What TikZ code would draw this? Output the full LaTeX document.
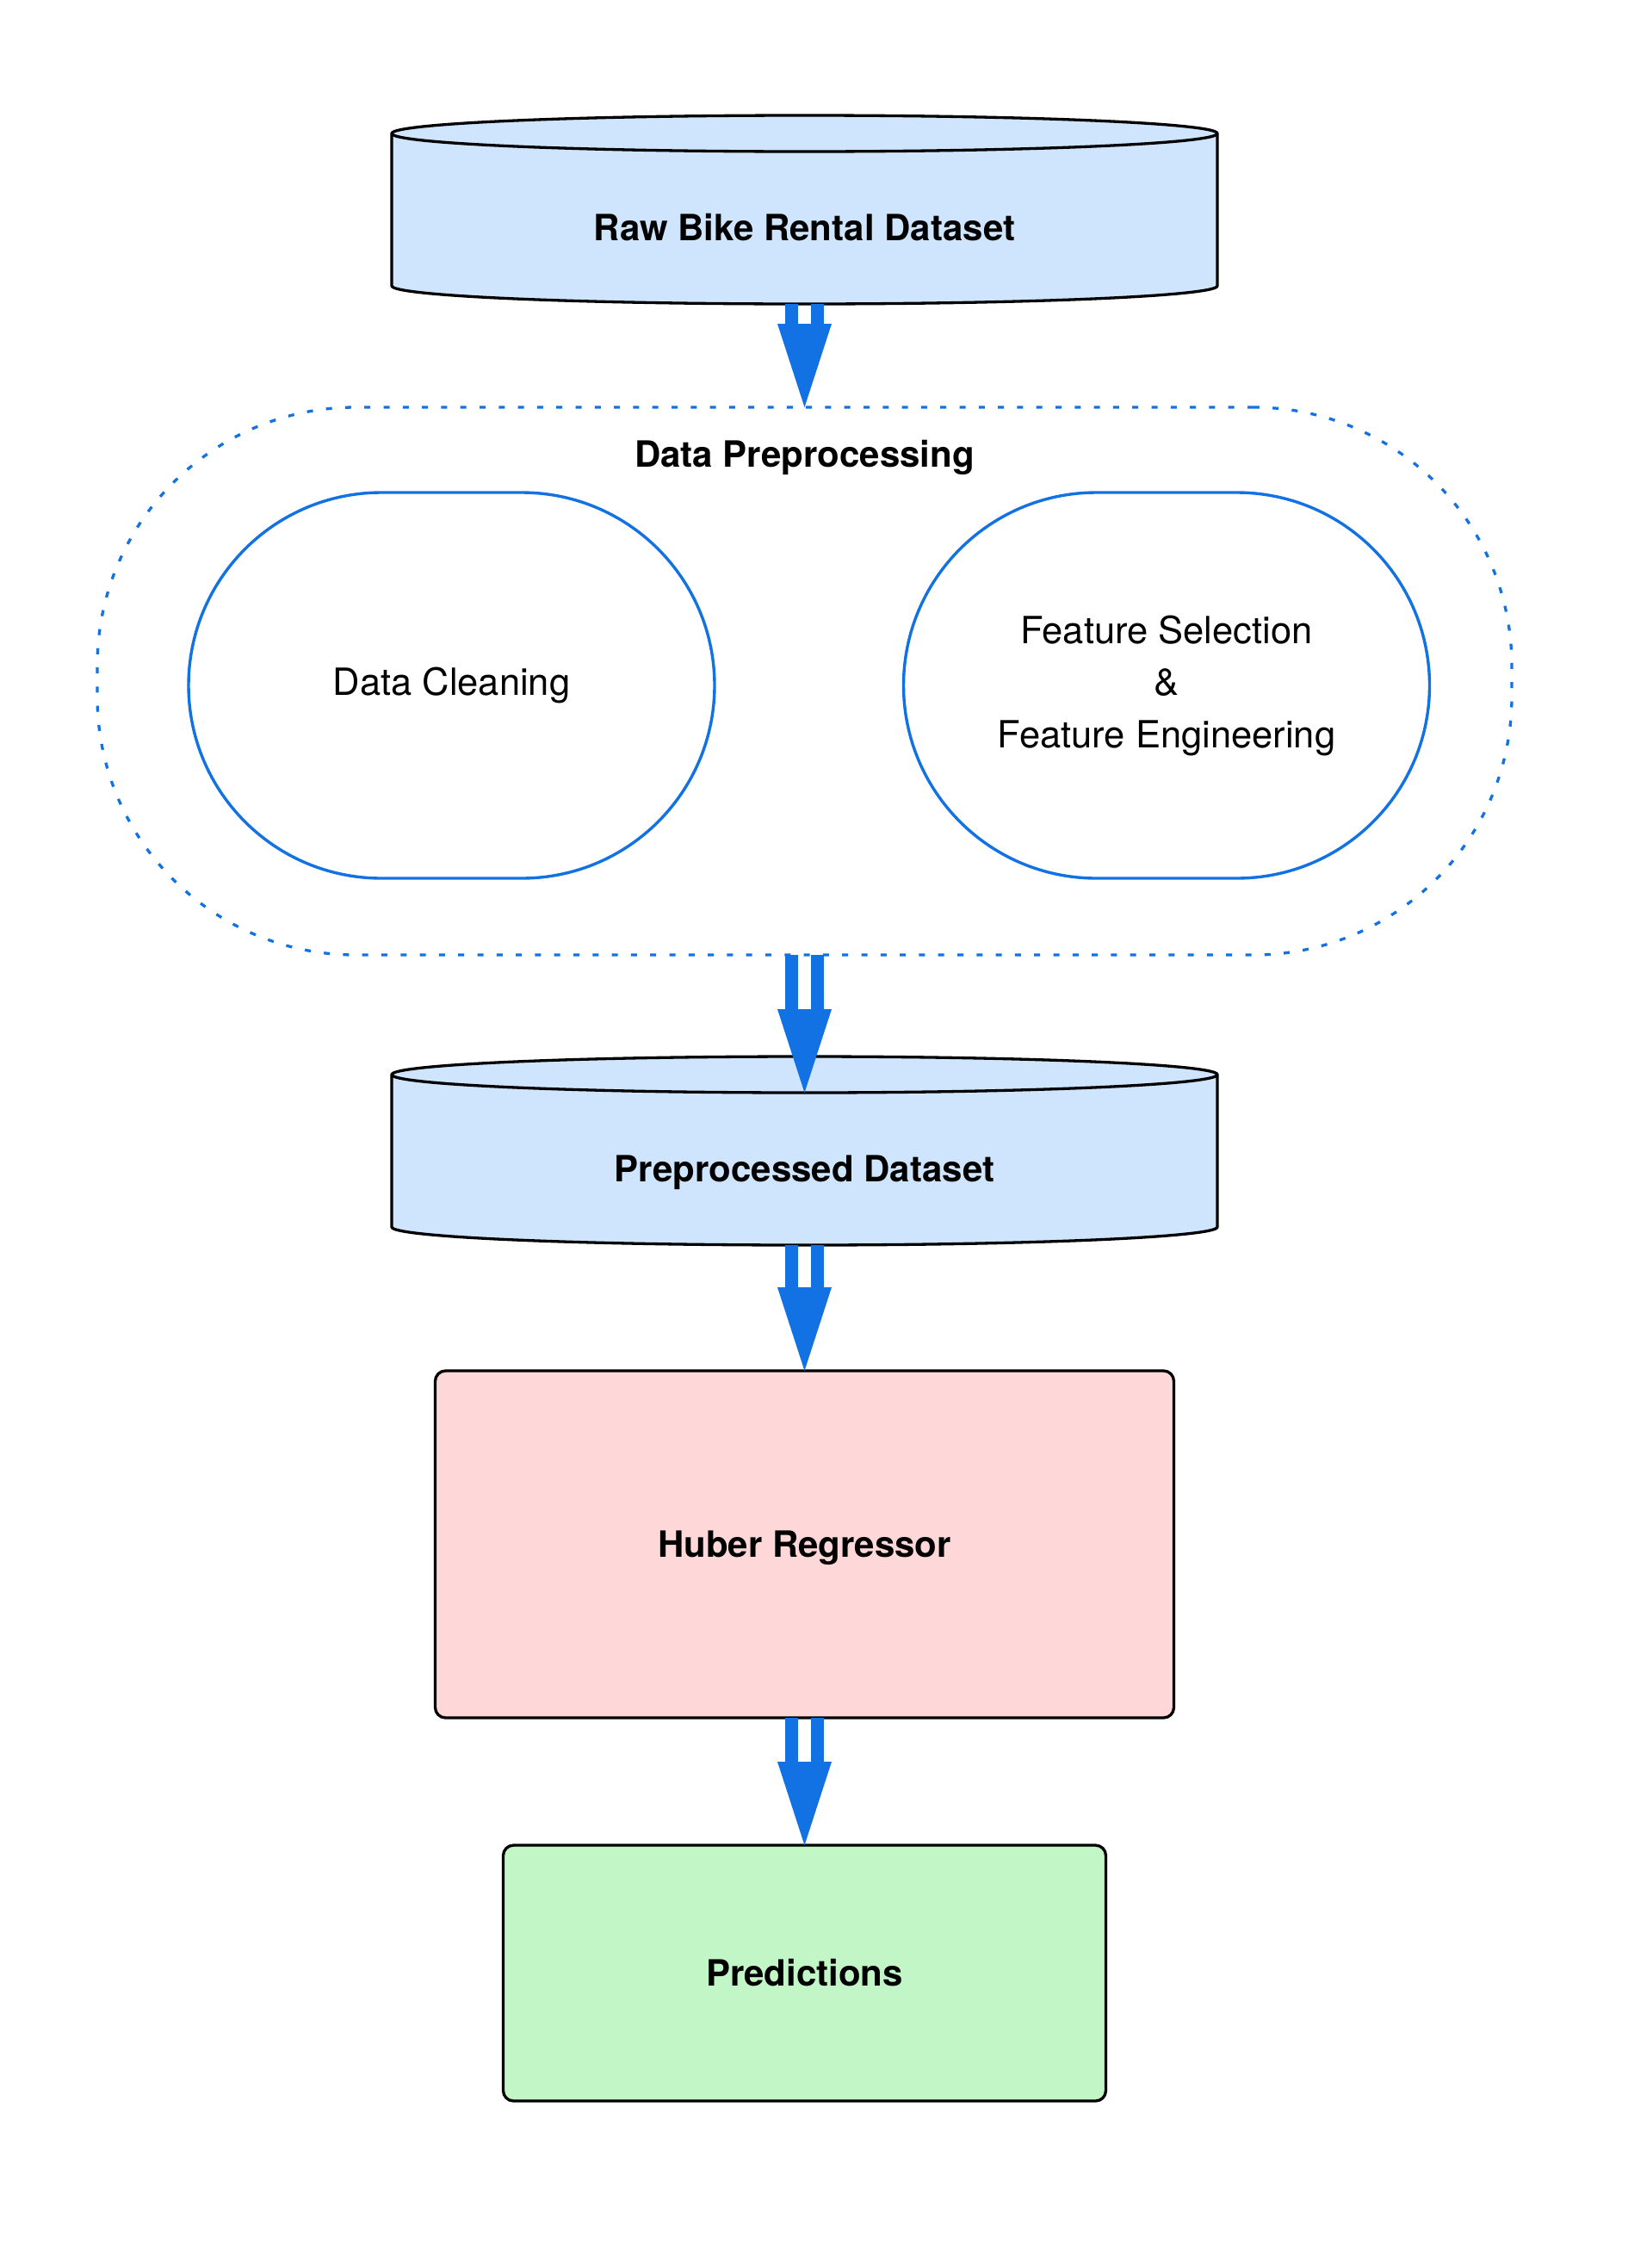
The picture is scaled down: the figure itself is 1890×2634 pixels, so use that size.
\documentclass[tikz,border=0pt]{standalone}
\usepackage{fontspec}
\setmainfont{TeX Gyre Heros}
\usepackage{xcolor}
\usepackage{tikz}
\usetikzlibrary{calc, backgrounds}

\definecolor{flowblue}{RGB}{18,114,228}
\definecolor{dbfill}{RGB}{207,228,253}
\definecolor{modelfill}{RGB}{254,216,217}
\definecolor{predfill}{RGB}{195,246,199}

\tikzset{
    boldtext/.style={font=\fontsize{42}{50}\selectfont\bfseries, text height=30.2pt, text depth=0pt},
    db/.style={boldtext, minimum width=959pt, minimum height=177pt, inner sep=0pt, outer sep=0pt},
    groupbox/.style={draw=flowblue, line width=3.3pt, dash pattern=on 7pt off 15.3pt, rounded corners=300pt, minimum width=1643pt, minimum height=636pt, outer sep=0pt},
    stage/.style={draw=flowblue, line width=3.4pt, rounded corners=224pt, minimum width=611pt, minimum height=448pt, align=center, font=\fontsize{43.5}{60.5}\selectfont},
    modelbox/.style={boldtext, draw=black, line width=3.3pt, rounded corners=12pt, outer sep=0pt},
    shaft/.style={draw=flowblue, line width=15pt},
}

% double shaft plus one wide head
\newcommand{\flowto}[2]{%
    \foreach \s in {-15,15}
        \draw[shaft] ([xshift=\s pt]#1) -- ([xshift=\s pt, yshift=96pt]#2);
    \fill[flowblue] ([xshift=-31.5pt, yshift=97pt]#2) -- (#2) -- ([xshift=31.5pt, yshift=97pt]#2) -- cycle;
}

\begin{document}
\begin{tikzpicture}[x=1pt, y=1pt]
        \useasboundingbox (0,0) rectangle (1890,-2634);

        \node[db] (raw) at (934.5,-264.5) {Raw Bike Rental Dataset};

        \node[groupbox] (pre) at (934.5,-791) {};
        \node[font=\fontsize{42}{50}\selectfont\bfseries, anchor=base] (prelabel) at (934.5,-542) {Data Preprocessing};
        \node[stage] (clean) at (524.5,-796) {Data Cleaning};
        \node[stage] (feat) at (1355,-796) {Feature Selection\\\&\\Feature Engineering};

        \node[db] (prep) at (934.5,-1357.5) {Preprocessed Dataset};

        \node[modelbox, fill=modelfill, minimum width=858pt, minimum height=403pt] (huber) at (934.5,-1793.5) {Huber Regressor};
        \node[modelbox, fill=predfill, minimum width=700pt, minimum height=297pt] (pred) at (934.5,-2291.5) {Predictions};

        % cylinders behind their labels
        \begin{scope}[on background layer]
            \fill[white] (0,0) rectangle (1890,-2634);
            \foreach \n in {raw, prep} {
                \filldraw[fill=dbfill, draw=black, line width=3.3pt]
                    ($(\n.north west)+(0,21)$) -- ($(\n.south west)+(0,21)$)
                    arc[start angle=180, end angle=360, x radius=479.5, y radius=21]
                    -- ($(\n.north east)+(0,21)$)
                    arc[start angle=0, end angle=180, x radius=479.5, y radius=21] -- cycle;
                \draw[line width=3.3pt] ($(\n.north west)+(0,21)$)
                    arc[start angle=180, end angle=360, x radius=479.5, y radius=21];
            }
        \end{scope}

        \flowto{raw.south}{pre.north}
        \flowto{pre.south}{prep.north}
        \flowto{prep.south}{huber.north}
        \flowto{huber.south}{pred.north}
    \end{tikzpicture}
\end{document}
